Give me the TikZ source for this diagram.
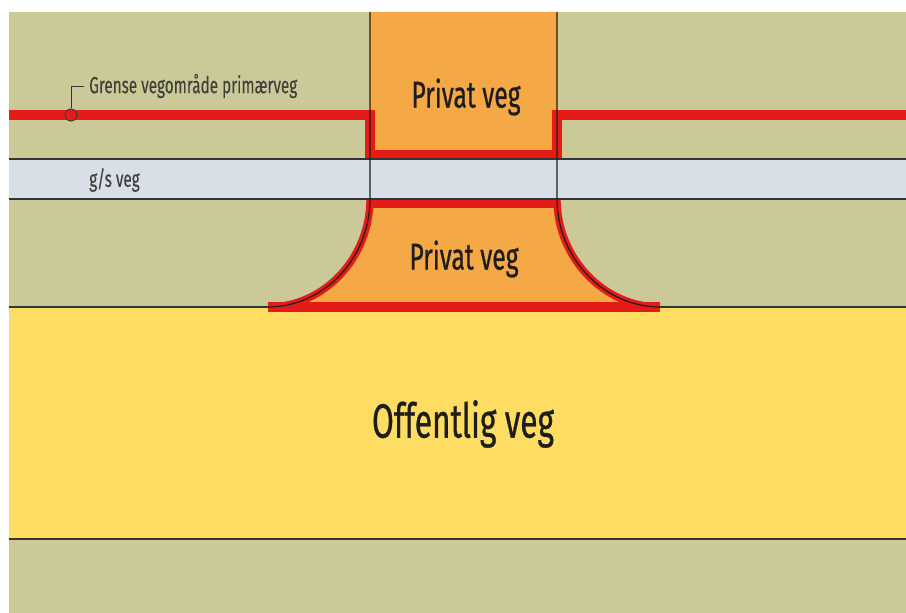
\documentclass[tikz,border=0pt]{standalone}
\usepackage{fontspec}
\setmainfont{Fira Sans}[FakeStretch=0.66,FakeBold=0.6]
\newfontfamily\smallfam{Fira Sans}[FakeStretch=0.66,FakeBold=0.1]
\definecolor{groundcol}{HTML}{CCC998}
\definecolor{gscol}{HTML}{D9DFE7}
\definecolor{privcol}{HTML}{F5A946}
\definecolor{pubcol}{HTML}{FFDD63}
\definecolor{bordercol}{HTML}{E31B19}
\definecolor{inkcol}{HTML}{1D1D1B}
\tikzset{
  edgeline/.style={draw=inkcol!90!white, line width=0.9pt},
  limitline/.style={draw=bordercol, line width=7pt, line join=miter},
  bigtext/.style={text=inkcol, font=\fontsize{#1}{#1}\selectfont},
  smalltext/.style={text=inkcol!85!white, font=\smallfam\fontsize{17.4}{19}\selectfont, anchor=west},
}
\begin{document}
\begin{tikzpicture}[x=0.75pt,y=0.75pt,yscale=-1,xscale=1]
  \useasboundingbox (0,0) rectangle (906,613);
  \fill [white] (0,0) rectangle (906,613);
  \fill [groundcol] (9,12) rectangle (906,613);
  \fill [gscol] (9,159) rectangle (906,199);
  \fill [pubcol] (9,307) rectangle (906,539);
  \fill [privcol] (370,12) rectangle (557,159);
  \fill [privcol] (370,199) .. controls (370,258) and (324,307) .. (268,307) -- (660,307) .. controls (604,307) and (557,258) .. (557,199) -- cycle;

  \draw [limitline] (9,115) -- (370,115) -- (370,154.5) -- (557,154.5) -- (557,115) -- (906,115);
  \draw [limitline] (370,203.5) -- (557,203.5);
  \draw [limitline, line width=5.5pt] (370,199) .. controls (370,258) and (324,307) .. (268,307);
  \draw [limitline, line width=5.5pt] (557,199) .. controls (557,258) and (604,307) .. (660,307);
  \draw [limitline] (268,307) -- (660,307);

  \draw [edgeline] (9,159) -- (906,159);
  \draw [edgeline] (9,199) -- (906,199);
  \draw [edgeline] (660,307) -- (906,307);
  \draw [edgeline] (9,307) -- (268,307);
  \draw [edgeline] (9,539) -- (906,539);
  \draw [edgeline, draw=inkcol] (370,12) -- (370,199) .. controls (370,258) and (324,307) .. (268,307);
  \draw [edgeline, draw=inkcol] (557,12) -- (557,199) .. controls (557,258) and (604,307) .. (660,307);

  \node (privtop) [bigtext=28] at (466,97) {Privat veg};
  \node (privlow) [bigtext=28] at (464,259) {Privat veg};
  \node (pubroad) [bigtext=36] at (463,424) {Offentlig veg};
  \node (gslabel) [smalltext, inner sep=0pt] at (89,180) {g/s veg};
  \node (limitlabel) [smalltext, inner sep=0pt] at (89,86) {Grense vegområde primærveg};
  \node (limitmark) [circle, draw=inkcol!85!white, line width=0.8pt, fill=bordercol, inner sep=0pt, minimum size=9pt] at (71,115) {};
  \draw [edgeline, line width=0.7pt] (limitlabel.west) ++(-5,0) coordinate (leadend) -| (limitmark.north);
\end{tikzpicture}
\end{document}
